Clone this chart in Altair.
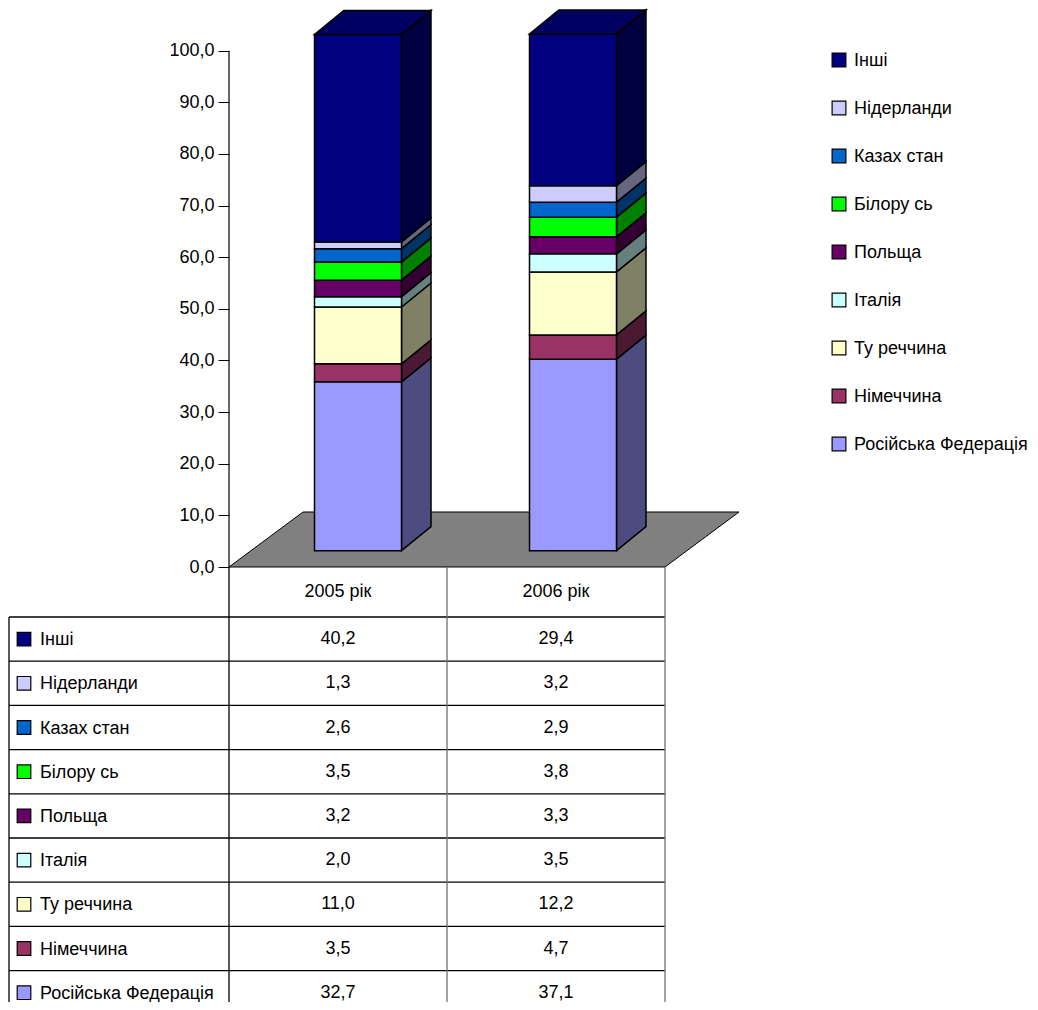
import altair as alt
import pandas as pd

# ---------------- data ----------------
years = ["2005 рік", "2006 рік"]
# stacking order, bottom to top (spelled as printed in the source picture)
countries = ["Російська Федерація", "Німеччина", "Ту реччина", "Італія", "Польща",
             "Білору сь", "Казах стан", "Нідерланди", "Інші"]
share_2005 = [32.7, 3.5, 11.0, 2.0, 3.2, 3.5, 2.6, 1.3, 40.2]
share_2006 = [37.1, 4.7, 12.2, 3.5, 3.3, 3.8, 2.9, 3.2, 29.4]
y_ticks = [0, 10, 20, 30, 40, 50, 60, 70, 80, 90, 100]

# ---------------- styles ----------------
front_colors = ["#9999FF", "#993366", "#FFFFCC", "#CCFFFF", "#660066",
                "#00FF00", "#0066CC", "#CCCCFF", "#000080"]
side_colors = ["#4C4C80", "#4C1933", "#808066", "#668080", "#330033",
               "#008000", "#003366", "#666680", "#000040"]
top_colors = ["#7373BF", "#732650", "#BFBF99", "#99BFBF", "#4D004D",
              "#00BF00", "#004D99", "#9999BF", "#000060"]
FONT = "Liberation Sans"
FS = 18

# ---------------- layout (pixels -> scale units) ----------------
PAGE_M = 8
W_TOTAL, H_TOTAL = 1022, 994
AXIS_X, AXIS_ZERO_Y = 229, 567
PX_PER_UNIT = 5.163            # vertical pixels per percentage point
COL_PX = 218.0                 # width of one table column / category slot
PAD_LEFT = AXIS_X - PAGE_M
PLOT_W = W_TOTAL - PAD_LEFT
PLOT_H = H_TOTAL


def ux(px):
    return (px - AXIS_X) / COL_PX


def uy(py):
    return (AXIS_ZERO_Y - py) / PX_PER_UNIT


FLOOR_DX, FLOOR_DY = 74 / COL_PX, 55 / PX_PER_UNIT
BASE_DX, BASE_DY = 20 / COL_PX, 16.3 / PX_PER_UNIT
BAR_DX, BAR_DY = 29.5 / COL_PX, 24 / PX_PER_UNIT
BAR_W = 87 / COL_PX
BAR_STEP = 215 / COL_PX

x_scale = alt.Scale(domain=[0, PLOT_W / COL_PX], nice=False, zero=False)
y_scale = alt.Scale(domain=[uy(PAGE_M + PLOT_H), uy(PAGE_M)], nice=False, zero=False)
y_axis = alt.Axis(values=y_ticks, domain=False, grid=False, tickSize=11, tickColor="black",
                  tickWidth=1, labelFontSize=FS, labelFont=FONT, labelColor="black",
                  labelPadding=4, title=None,
                  labelExpr="replace(format(datum.value, '.1f'), '.', ',')")


def X(f="x"):
    return alt.X(f"{f}:Q", scale=x_scale, axis=None)


def Y(f="y"):
    return alt.Y(f"{f}:Q", scale=y_scale, axis=y_axis)


# ---------------- floor ----------------
floor_df = pd.DataFrame([
    {"y": 0, "x": 0, "x2": 2},
    {"y": FLOOR_DY, "x": FLOOR_DX, "x2": 2 + FLOOR_DX},
])
floor = alt.Chart(floor_df).mark_area(orient="horizontal", color="#808080",
                                      stroke="black", strokeWidth=1).encode(
    y=Y(), x=X(), x2=alt.X2("x2"))

# ---------------- bars ----------------
front_rows, side_rows, top_rows = [], [], []
for i, vals in enumerate([share_2005, share_2006]):
    xl = 0.5 - BAR_W / 2 + BASE_DX + i * BAR_STEP
    xr = xl + BAR_W
    cum = 0.0
    for k, v in enumerate(vals):
        y0, y1 = cum + BASE_DY, cum + v + BASE_DY
        cum += v
        sid = f"{i}-{k}"
        front_rows.append({"x": xl, "x2": xr, "y": y0, "y2": y1, "fill": front_colors[k]})
        side_rows.append({"id": sid, "x": xr, "y": y0, "y2": y1, "fill": side_colors[k]})
        side_rows.append({"id": sid, "x": xr + BAR_DX, "y": y0 + BAR_DY, "y2": y1 + BAR_DY,
                          "fill": side_colors[k]})
    topk = len(vals) - 1
    ytop = cum + BASE_DY
    top_rows.append({"id": str(i), "y": ytop, "x": xl, "x2": xr, "fill": top_colors[topk]})
    top_rows.append({"id": str(i), "y": ytop + BAR_DY, "x": xl + BAR_DX, "x2": xr + BAR_DX,
                     "fill": top_colors[topk]})

fronts = alt.Chart(pd.DataFrame(front_rows)).mark_rect(stroke="black", strokeWidth=1.5).encode(
    x=X(), x2=alt.X2("x2"), y=Y(), y2=alt.Y2("y2"), color=alt.Color("fill:N", scale=None))
sides = alt.Chart(pd.DataFrame(side_rows)).mark_area(stroke="black", strokeWidth=1.5).encode(
    x=X(), y=Y(), y2=alt.Y2("y2"), color=alt.Color("fill:N", scale=None), detail="id:N")
tops = alt.Chart(pd.DataFrame(top_rows)).mark_area(orient="horizontal", stroke="black",
                                                   strokeWidth=1.5).encode(
    y=Y(), x=X(), x2=alt.X2("x2"), color=alt.Color("fill:N", scale=None), detail="id:N")

# ---------------- y axis line ----------------
axis_line = alt.Chart(pd.DataFrame([{"x": 0, "y": y_ticks[0], "y2": y_ticks[-1]}])).mark_rule(
    color="black", strokeWidth=1.2).encode(x=X(), y=Y(), y2=alt.Y2("y2"))

# ---------------- data table ----------------
HEADER_BOTTOM = 617
ROW_H = 44.2
TABLE_LEFT = 9
n = len(countries)
table_order = list(range(n - 1, -1, -1))          # Інші first
row_center = [uy(HEADER_BOTTOM + ROW_H * (r + 0.5)) for r in range(n)]
table_bottom = uy(PAGE_M + PLOT_H + 30)

h_lines = pd.DataFrame([{"x": ux(TABLE_LEFT), "x2": 2, "y": uy(HEADER_BOTTOM + ROW_H * r)}
                        for r in range(n + 1)])
hl = alt.Chart(h_lines).mark_rule(color="black", strokeWidth=1.3).encode(
    x=X(), x2=alt.X2("x2"), y=Y())

v_lines = pd.DataFrame([
    {"x": ux(TABLE_LEFT), "y": uy(HEADER_BOTTOM), "y2": table_bottom, "c": "black"},
    {"x": 0, "y": 0, "y2": table_bottom, "c": "black"},
    {"x": 1, "y": 0, "y2": table_bottom, "c": "#707070"},
    {"x": 2, "y": 0, "y2": table_bottom, "c": "#707070"},
])
vl = alt.Chart(v_lines).mark_rule(strokeWidth=1.3).encode(
    x=X(), y=Y(), y2=alt.Y2("y2"), color=alt.Color("c:N", scale=None))

header_df = pd.DataFrame([{"x": i + 0.5, "y": uy((AXIS_ZERO_Y + HEADER_BOTTOM) / 2), "t": yr}
                          for i, yr in enumerate(years)])
header = alt.Chart(header_df).mark_text(font=FONT, fontSize=FS, color="black",
                                        baseline="middle", align="center", dy=0).encode(
    x=X(), y=Y(), text="t:N")

val_rows, lab_rows = [], []
for r, k in enumerate(table_order):
    for i, vals in enumerate([share_2005, share_2006]):
        val_rows.append({"x": i + 0.5, "y": row_center[r],
                         "t": f"{vals[k]:.1f}".replace(".", ",")})
    lab_rows.append({"x": ux(40), "xs": ux(24), "y": row_center[r], "t": countries[k],
                     "fill": front_colors[k]})
vals_txt = alt.Chart(pd.DataFrame(val_rows)).mark_text(
    font=FONT, fontSize=FS, color="black", baseline="middle", align="center", dy=0).encode(
    x=X(), y=Y(), text="t:N")
lab_df = pd.DataFrame(lab_rows)
tab_sw = alt.Chart(lab_df).mark_square(size=185, opacity=1, stroke="black",
                                       strokeWidth=1.2).encode(
    x=X("xs"), y=Y(), color=alt.Color("fill:N", scale=None))
tab_lab = alt.Chart(lab_df).mark_text(font=FONT, fontSize=FS, color="black",
                                      baseline="middle", align="left", dy=1).encode(
    x=X(), y=Y(), text="t:N")

# ---------------- legend (right) ----------------
LEG_Y0, LEG_STEP = 60, 48
leg_rows = [{"x": ux(854), "xs": ux(839), "y": uy(LEG_Y0 + LEG_STEP * r), "t": countries[k],
             "fill": front_colors[k]} for r, k in enumerate(table_order)]
leg_df = pd.DataFrame(leg_rows)
leg_sw = alt.Chart(leg_df).mark_square(size=190, opacity=1, stroke="black",
                                       strokeWidth=1.2).encode(
    x=X("xs"), y=Y(), color=alt.Color("fill:N", scale=None))
leg_lab = alt.Chart(leg_df).mark_text(font=FONT, fontSize=FS, color="black",
                                      baseline="middle", align="left", dy=1).encode(
    x=X(), y=Y(), text="t:N")

chart = alt.layer(
    floor, sides, fronts, tops, axis_line, hl, vl, header, vals_txt, tab_sw, tab_lab,
    leg_sw, leg_lab
).properties(
    width=PLOT_W, height=PLOT_H,
    padding={"left": PAD_LEFT, "top": 0, "right": 0, "bottom": 0},
    autosize=alt.AutoSizeParams(type="none"),
).configure(background="white").configure_view(stroke=None)

chart.save("out.html", embed_options={"renderer": "svg", "actions": False})
